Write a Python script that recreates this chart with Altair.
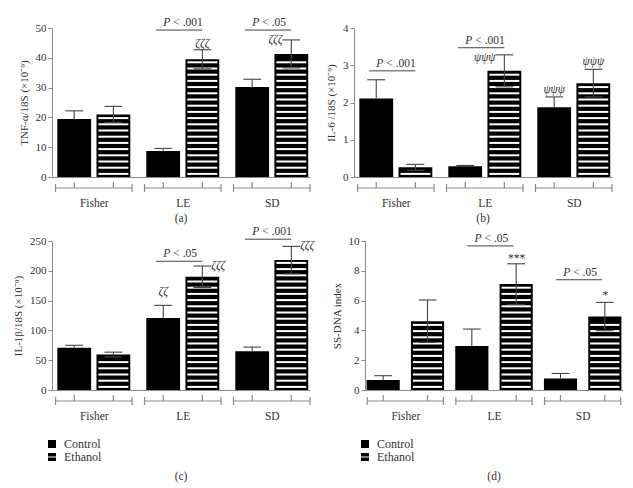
import altair as alt
import pandas as pd

groups = ["Fisher", "LE", "SD"]
treatments = ["Control", "Ethanol"]

# (a) TNF-alpha
tnf_control = [19.5, 8.7, 30.2]
tnf_control_err = [2.7, 0.9, 2.6]
tnf_ethanol = [21.0, 39.5, 41.3]
tnf_ethanol_err = [2.7, 3.2, 4.7]

# (b) IL-6
il6_control = [2.11, 0.29, 1.87]
il6_control_err = [0.50, 0.02, 0.28]
il6_ethanol = [0.26, 2.85, 2.52]
il6_ethanol_err = [0.08, 0.43, 0.37]

# (c) IL-1beta
il1b_control = [71, 121, 65]
il1b_control_err = [4, 21, 7]
il1b_ethanol = [59.5, 190, 218]
il1b_ethanol_err = [4, 18, 23]

# (d) SS-DNA index
ssdna_control = [0.67, 2.95, 0.78]
ssdna_control_err = [0.29, 1.14, 0.33]
ssdna_ethanol = [4.62, 7.11, 4.93]
ssdna_ethanol_err = [1.42, 1.36, 0.95]

# significance annotations: (group, label, height of the line)
tnf_sig = [("LE", "< .001", 49.3), ("SD", "< .05", 49.3)]
il6_sig = [("Fisher", "< .001", 2.85), ("LE", "< .001", 3.47)]
il1b_sig = [("LE", "< .05", 216), ("SD", "< .001", 253)]
ssdna_sig = [("LE", "< .05", 9.67), ("SD", "< .05", 7.4)]

# symbol annotations: (group, treatment, text, height, side)
tnf_marks = [("LE", "Ethanol", "ζζζ", 44.6, "above"), ("SD", "Ethanol", "ζζζ", 46.0, "left")]
il6_marks = [("LE", "Ethanol", "ψψψ", 3.2, "left"), ("SD", "Control", "ψψψ", 2.34, "above"),
             ("SD", "Ethanol", "ψψψ", 3.08, "above")]
il1b_marks = [("LE", "Control", "ζζ", 165, "above"), ("LE", "Ethanol", "ζζζ", 208, "right"),
              ("SD", "Ethanol", "ζζζ", 241, "right")]
ssdna_marks = [("LE", "Ethanol", "***", 8.8, "above"), ("SD", "Ethanol", "*", 6.3, "above")]

FONT = "Liberation Serif"
TXT = "#333333"
AX = "#8a8a8a"
W, H = 258, 149
STRIPE_PX = 6.2
CAP = 0.1
ETH_PATH = "M-1,-1H1V-0.14H-1Z M-1,0.14H1V1H-1Z"


def panel(ctrl, ce, eth, ee, ymax, ystep, ytitle, sig, marks, caption,
          off=0.22, half=0.19, domain=(-0.47, 2.43), legend=False):
    rows = []
    for i, g in enumerate(groups):
        for t, vals, errs, o in (("Control", ctrl, ce, -off), ("Ethanol", eth, ee, off)):
            v, e = vals[i], errs[i]
            xc = i + o
            rows.append(dict(group=g, gi=i, treatment=t, value=v, err=e, xc=xc,
                             x0=xc - half, x1=xc + half, hi=v + e,
                             lo=(v - e) if t == "Ethanol" else v,
                             cl=xc - CAP, cr=xc + CAP))
    bars = pd.DataFrame(rows)

    caps = []
    for r in rows:
        caps.append(dict(cl=r["cl"], cr=r["cr"], y=r["hi"]))
        if r["treatment"] == "Ethanol":
            caps.append(dict(cl=r["cl"], cr=r["cr"], y=r["lo"]))
    caps = pd.DataFrame(caps)

    step = STRIPE_PX * ymax / H
    stripes = []
    for r in rows:
        if r["treatment"] != "Ethanol":
            continue
        k = 1
        while (k - 0.5) * step < r["value"] - 0.45 * step:
            stripes.append(dict(x0=r["x0"] + 0.022, x1=r["x1"] - 0.022, y=(k - 0.5) * step))
            k += 1
    stripes = pd.DataFrame(stripes)

    brk = pd.DataFrame([dict(gi=i, l=i - 0.43, r=i + 0.43) for i in range(len(groups))])

    sigdf = pd.DataFrame([dict(l=groups.index(g) - 0.3, r=groups.index(g) + 0.22,
                               xa=groups.index(g) - 0.14, y=y, lab=lab) for g, lab, y in sig])

    mrows = []
    for g, t, txt, y, side in marks:
        r = [q for q in rows if q["group"] == g and q["treatment"] == t][0]
        if side == "above":
            mrows.append(dict(x=r["xc"], y=y, txt=txt, align="center"))
        elif side == "left":
            mrows.append(dict(x=r["cl"], y=y, txt=txt, align="right"))
        else:
            mrows.append(dict(x=r["cr"], y=y, txt=txt, align="left"))
    mdf = pd.DataFrame(mrows)

    labexpr = " : ".join(f"datum.value == {i} ? '{g}'" for i, g in enumerate(groups[:-1])) + f" : '{groups[-1]}'"
    xs = alt.Scale(domain=list(domain), nice=False, zero=False)
    ys = alt.Scale(domain=[0, ymax], nice=False)
    xaxis = alt.Axis(values=list(range(len(groups))), labelExpr=labexpr,
                     ticks=False, grid=False, title=None, domainColor=AX,
                     labelFont=FONT, labelFontSize=11.5, labelColor=TXT, labelPadding=20)
    yaxis = alt.Axis(values=[ystep * k for k in range(int(round(ymax / ystep)) + 1)],
                     title=ytitle, grid=False, domainColor=AX, tickColor=AX, tickSize=4,
                     labelFont=FONT, labelFontSize=11, labelColor=TXT, labelPadding=2,
                     titleFont=FONT, titleFontSize=11, titleFontWeight="normal",
                     titleColor=TXT, titlePadding=6)
    nx = lambda f: alt.X(f, type="quantitative", scale=xs, axis=xaxis)
    ny = lambda f: alt.Y(f, type="quantitative", scale=ys, axis=yaxis)

    base_bars = alt.Chart(bars).mark_rect(color="black").encode(
        x=nx("x0"), x2="x1:Q", y=ny("value"), y2=alt.datum(0))
    stripe_l = alt.Chart(stripes).mark_rule(color="white", strokeWidth=2).encode(
        x=nx("x0"), x2="x1:Q", y=ny("y"))
    err_l = alt.Chart(bars).mark_rule(color="#444444", strokeWidth=1.1).encode(
        x=nx("xc"), y=ny("lo"), y2="hi:Q")
    cap_l = alt.Chart(caps).mark_rule(color="#444444", strokeWidth=1.1).encode(
        x=nx("cl"), x2="cr:Q", y=ny("y"))

    br_h = alt.Chart(brk).mark_rule(color=AX, strokeWidth=1.2).encode(
        x=nx("l"), x2="r:Q", y=alt.value(H + 11))
    br_l = alt.Chart(brk).mark_rule(color=AX, strokeWidth=1.2).encode(
        x=nx("l"), y=alt.value(H + 7), y2=alt.value(H + 15))
    br_r = alt.Chart(brk).mark_rule(color=AX, strokeWidth=1.2).encode(
        x=nx("r"), y=alt.value(H + 7), y2=alt.value(H + 15))
    br_c = alt.Chart(bars).mark_rule(color=AX, strokeWidth=1.2).encode(
        x=nx("xc"), y=alt.value(H + 5), y2=alt.value(H + 11))

    sig_line = alt.Chart(sigdf).mark_rule(color="#444444", strokeWidth=1).encode(
        x=nx("l"), x2="r:Q", y=ny("y"))
    sig_p = alt.Chart(sigdf).mark_text(text="P", font=FONT, fontSize=11.5, fontStyle="italic",
                                       color=TXT, align="right", baseline="alphabetic", dy=-4).encode(
        x=nx("xa"), y=ny("y"))
    sig_t = alt.Chart(sigdf).mark_text(font=FONT, fontSize=11.5, color=TXT, align="left",
                                       baseline="alphabetic", dx=3, dy=-4).encode(
        x=nx("xa"), y=ny("y"), text="lab:N")

    layers = [base_bars, stripe_l, err_l, cap_l, br_h, br_l, br_r, br_c, sig_line, sig_p, sig_t]
    for al in ("center", "left", "right"):
        sub = mdf[mdf["align"] == al]
        if len(sub):
            layers.append(alt.Chart(sub).mark_text(font=FONT, fontSize=11.5, fontStyle="italic",
                                                   color=TXT, align=al, baseline="middle").encode(
                x=nx("x"), y=ny("y"), text="txt:N"))

    if legend:
        layers.append(alt.Chart(bars).mark_point(opacity=0, filled=True, color="black").encode(
            x=nx("xc"), y=ny("value"),
            shape=alt.Shape("treatment:N",
                            scale=alt.Scale(domain=treatments, range=["square", ETH_PATH]),
                            legend=alt.Legend(title=None, orient="none", legendX=-6, legendY=H + 48,
                                              symbolFillColor="black", symbolStrokeWidth=0,
                                              symbolOpacity=1, symbolSize=64, labelFont=FONT,
                                              labelFontSize=12, labelColor=TXT, rowPadding=1,
                                              labelOffset=6))))

    return alt.layer(*layers).properties(
        width=W, height=H,
        title=alt.TitleParams(caption, orient="bottom", font=FONT, fontSize=11.5,
                              fontWeight="normal", color=TXT, offset=8 if legend else 4,
                              frame="group"))


a = panel(tnf_control, tnf_control_err, tnf_ethanol, tnf_ethanol_err, 50, 10,
          "TNF-α/18S (×10⁻⁹)", tnf_sig, tnf_marks, "(a)")
b = panel(il6_control, il6_control_err, il6_ethanol, il6_ethanol_err, 4, 1,
          "IL-6 /18S (×10⁻⁹)", il6_sig, il6_marks, "(b)")
c = panel(il1b_control, il1b_control_err, il1b_ethanol, il1b_ethanol_err, 250, 50,
          "IL-1β/18S (×10⁻⁹)", il1b_sig, il1b_marks, "(c)", legend=True)
d = panel(ssdna_control, ssdna_control_err, ssdna_ethanol, ssdna_ethanol_err, 10, 2,
          "SS-DNA index", ssdna_sig, ssdna_marks, "(d)", off=0.25, half=0.187,
          domain=(-0.455, 2.455), legend=True)

top = alt.hconcat(a, b, spacing=14)
bottom = alt.hconcat(c, d, spacing=16).resolve_scale(shape="independent")

chart = alt.vconcat(top, bottom, spacing=2).resolve_scale(shape="independent").properties(
    padding={"left": 4, "top": 9, "right": 0, "bottom": 0}).configure_view(stroke=None)

chart.save("out.html", embed_options={"renderer": "svg", "actions": False})
